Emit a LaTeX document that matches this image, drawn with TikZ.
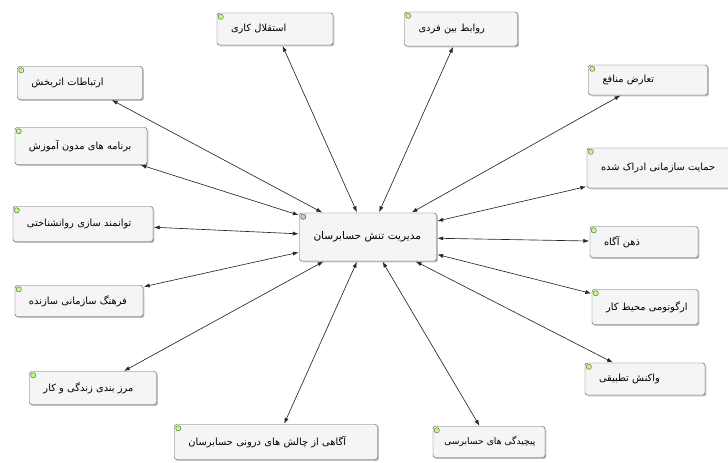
\documentclass[tikz,border=0pt]{standalone}
\usepackage{fontspec}
\usepackage{tikz}
\usetikzlibrary{positioning}
\usetikzlibrary{calc,shadows,arrows.meta}
\newfontfamily\arabicfont[Script=Arabic]{DejaVu Sans}
\TeXXeTstate=1
\pgfkeys{tikz/factor/.style={draw=gray!70!black,fill=gray!8,rounded corners=2pt,
    drop shadow={shadow xshift=1.2pt,shadow yshift=-1.2pt,opacity=0.5},
    align=left,inner xsep=0.12cm,inner ysep=0pt,text=black,
    font=\arabicfont\fontsize{8.4}{9}\selectfont}}
\pgfkeys{tikz/link/.style={draw=gray!30!black,line width=0.55pt,
    {Latex[length=5pt,width=3.5pt]}-{Latex[length=5pt,width=3.5pt]},shorten <=0.5pt,shorten >=0.5pt}}
\pgfkeys{tikz/badge/.style={draw=gray!80!black,fill=green!45!yellow!55,line width=0.4pt}}
\newcommand*\rtl[2][0.3cm]{\hspace*{#1}\mbox{\beginR #2\endR}}

\begin{document}
\begin{tikzpicture}[x=0.03cm,y=-0.03cm]
    \useasboundingbox (0,0) rectangle (728,462);
    \clip (0,0) rectangle (728,462);

	\node[factor,text width=3.87cm,minimum height=1.44cm,
	  font=\arabicfont\fontsize{9}{10}\selectfont] (mtn) at (368,237) {\rtl{مدیریت تنش حسابرسان}\\[4pt]};

    \node[factor,text width=3.24cm,minimum height=0.96cm] (fac-1) at (275,29) {\rtl{استقلال کاری}};
    \node[factor,text width=3.15cm,minimum height=1.02cm] (fac-2) at (461,29) {\rtl{روابط بین فردی}};
    \node[factor,text width=3.33cm,minimum height=0.90cm] (fac-3) at (648,80) {\rtl{تعارض منافع}};
    \node[factor,text width=4.56cm,minimum height=1.20cm] (fac-4) at (667,168) {\rtl{حمایت سازمانی ادراک شده}};
    \node[factor,text width=3.00cm,minimum height=0.93cm] (fac-5) at (644,242) {\rtl{ذهن آگاه}};
    \node[factor,text width=2.94cm,minimum height=1.05cm] (fac-6) at (645,307) {\rtl{ارگونومی محیط کار}};
    \node[factor,text width=3.36cm,minimum height=0.96cm] (fac-7) at (645,379) {\rtl{واکنش تطبیقی}};
    \node[factor,text width=3.12cm,minimum height=0.93cm,
      font=\arabicfont\fontsize{7.8}{9}\selectfont] (fac-8) at (489,442) {\rtl[0.22cm]{پیچیدگی های حسابرسی}};
    \node[factor,text width=5.85cm,minimum height=1.05cm] (fac-9) at (276,442) {\rtl{آگاهی از چالش های درونی حسابرسان}};
    \node[factor,text width=3.57cm,minimum height=0.99cm] (fac-10) at (93,388) {\rtl{مرز بندی زندگی و کار}};
    \node[factor,text width=3.60cm,minimum height=0.93cm] (fac-11) at (79,301) {\rtl{فرهنگ سازمانی سازنده}};
    \node[factor,text width=3.96cm,minimum height=1.05cm] (fac-12) at (83,224) {\rtl{توانمند سازی روانشناختی}};
    \node[factor,text width=3.72cm,minimum height=1.11cm] (fac-13) at (81,146) {\rtl{برنامه های مدون آموزش}};
    \node[factor,text width=3.51cm,minimum height=0.99cm] (fac-14) at (80,83) {\rtl{ارتباطات اثربخش}};

    \foreach \i in {1,...,14} {
      \draw[link] (mtn) -- (fac-\i);
      \draw[badge] ($(fac-\i.north west)+(4,4)$) circle (2.6);
    }
    \draw[draw=gray!60!black,fill=gray!40] ($(mtn.north west)+(4,4)$) circle (2.6);

\end{tikzpicture}
\end{document}
